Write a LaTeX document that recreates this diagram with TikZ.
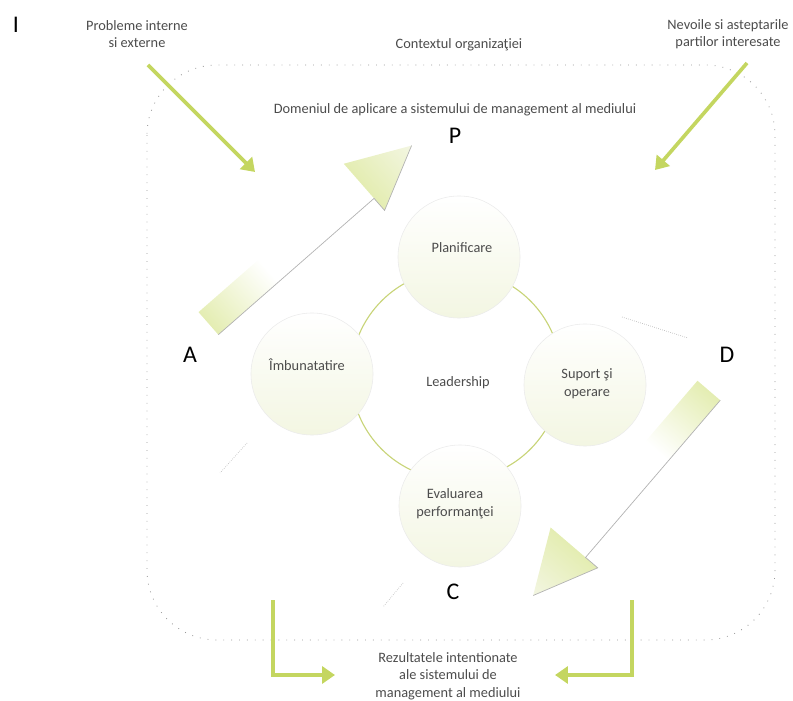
\documentclass[tikz,border=0pt]{standalone}
\usepackage{fontspec}
\setmainfont{Carlito}
\usetikzlibrary{arrows.meta}

\definecolor{limeg}{RGB}{196,214,96}
\definecolor{paleg}{RGB}{228,237,178}
\definecolor{mistg}{RGB}{243,246,226}
\definecolor{ringg}{RGB}{200,212,120}

\tikzset{
	lbl/.style={font=\fontsize{10.2}{12.5}\selectfont, text=black!70, align=center, inner sep=1pt},
	biglet/.style={font=\fontsize{17}{20}\selectfont, text=black, inner sep=0pt},
	stage/.style={circle, minimum size=3.05cm, inner sep=0pt, draw=black!8, top color=white, bottom color=mistg},
	ringc/.style={circle, minimum size=5.25cm, inner sep=0pt, draw=ringg, line width=0.8pt},
	ctxline/.style={draw=black!40, line width=0.6pt, dash pattern=on 0.6pt off 5pt, rounded corners=1.75cm},
	feed/.style={draw=limeg, line width=2.6pt, -{Triangle[width=0.42cm,length=0.32cm]}},
	tailfill/.style={left color=paleg, right color=white},
	headfill/.style={left color=paleg, right color=mistg},
	edgeline/.style={draw=black!30, line width=0.5pt},
	ghost/.style={draw=black!25, line width=0.5pt, densely dotted}
}

% wide faded arrow: centre, angle, side of the shadow edge
\newcommand{\bigarrow}[3]{%
	\begin{scope}[transform canvas={shift={#1}, rotate=#2}]
		\path[tailfill] (-135,-15) rectangle (-55,15);
		\path[headfill] (72,-31) -- (135,0) -- (72,31) -- cycle;
		\draw[edgeline] (-135,#3*15) -- (72,#3*15) -- (72,#3*31) -- (135,0);
	\end{scope}}

\begin{document}
\begin{tikzpicture}[x=0.025cm,y=-0.025cm]
		\useasboundingbox (0,0) rectangle (793,701);
%		\draw[help lines,step=50] (0,0) grid (793,701);
		\path (148,65) coordinate (probl_start);
		\path (255,172) coordinate (probl_end);
		\path (747,63) coordinate (nevoi_start);
		\path (655,170) coordinate (nevoi_end);
		\path (273,600) coordinate (rez_left);
		\path (335,675) coordinate (rez_left_end);
		\path (632,600) coordinate (rez_right);
		\path (555,675) coordinate (rez_right_end);

		\path (16,25) node(mark) [biglet] {I};
		\path (137,34) node(probl) [lbl] {Probleme interne\\si externe};
		\path (459,45) node(ctx) [lbl] {Contextul organizaţiei};
		\path (728,34) node(nevoi) [lbl] {Nevoile si asteptarile\\partilor interesate};
		\path (455,110) node(dom) [lbl] {Domeniul de aplicare a sistemului de management al mediului};
		\path (455,136) node(P) [biglet] {P};
		\path (190,355) node(A) [biglet] {A};
		\path (727,355) node(D) [biglet] {D};
		\path (453,592) node(C) [biglet] {C};

		\draw[ctxline] (147,65) rectangle (775,640);

		\bigarrow{(310,234.5)}{41.2}{1}
		\bigarrow{(621,493)}{229.4}{-1}
		\draw[ghost] (622,317) -- (688,338);
		\draw[ghost] (403,583) -- (383,607);
		\draw[ghost] (247,443) -- (220,473);

		\path (456,375) node(ring) [ringc] {};
		\path (459,257) node(plan) [stage] {};
		\path (312,374) node(imb) [stage] {};
		\path (585,385) node(sup) [stage] {};
		\path (460,506) node(eval) [stage] {};
		\path (462,248) node(plan_txt) [lbl] {Planificare};
		\path (307,365) node(imb_txt) [lbl] {Îmbunatatire};
		\path (587,384) node(sup_txt) [lbl] {Suport şi\\operare};
		\path (455,504) node(eval_txt) [lbl] {Evaluarea\\performanţei};
		\path (458,383) node(lead) [lbl] {Leadership};

		\draw[feed] (probl_start) -- (probl_end);
		\draw[feed] (nevoi_start) -- (nevoi_end);
		\draw[feed] (rez_left) |- (rez_left_end);
		\draw[feed] (rez_right) |- (rez_right_end);
		\path (448,676) node(rez) [lbl] {Rezultatele intentionate\\ale sistemului de\\management al mediului};
	\end{tikzpicture}
\end{document}
